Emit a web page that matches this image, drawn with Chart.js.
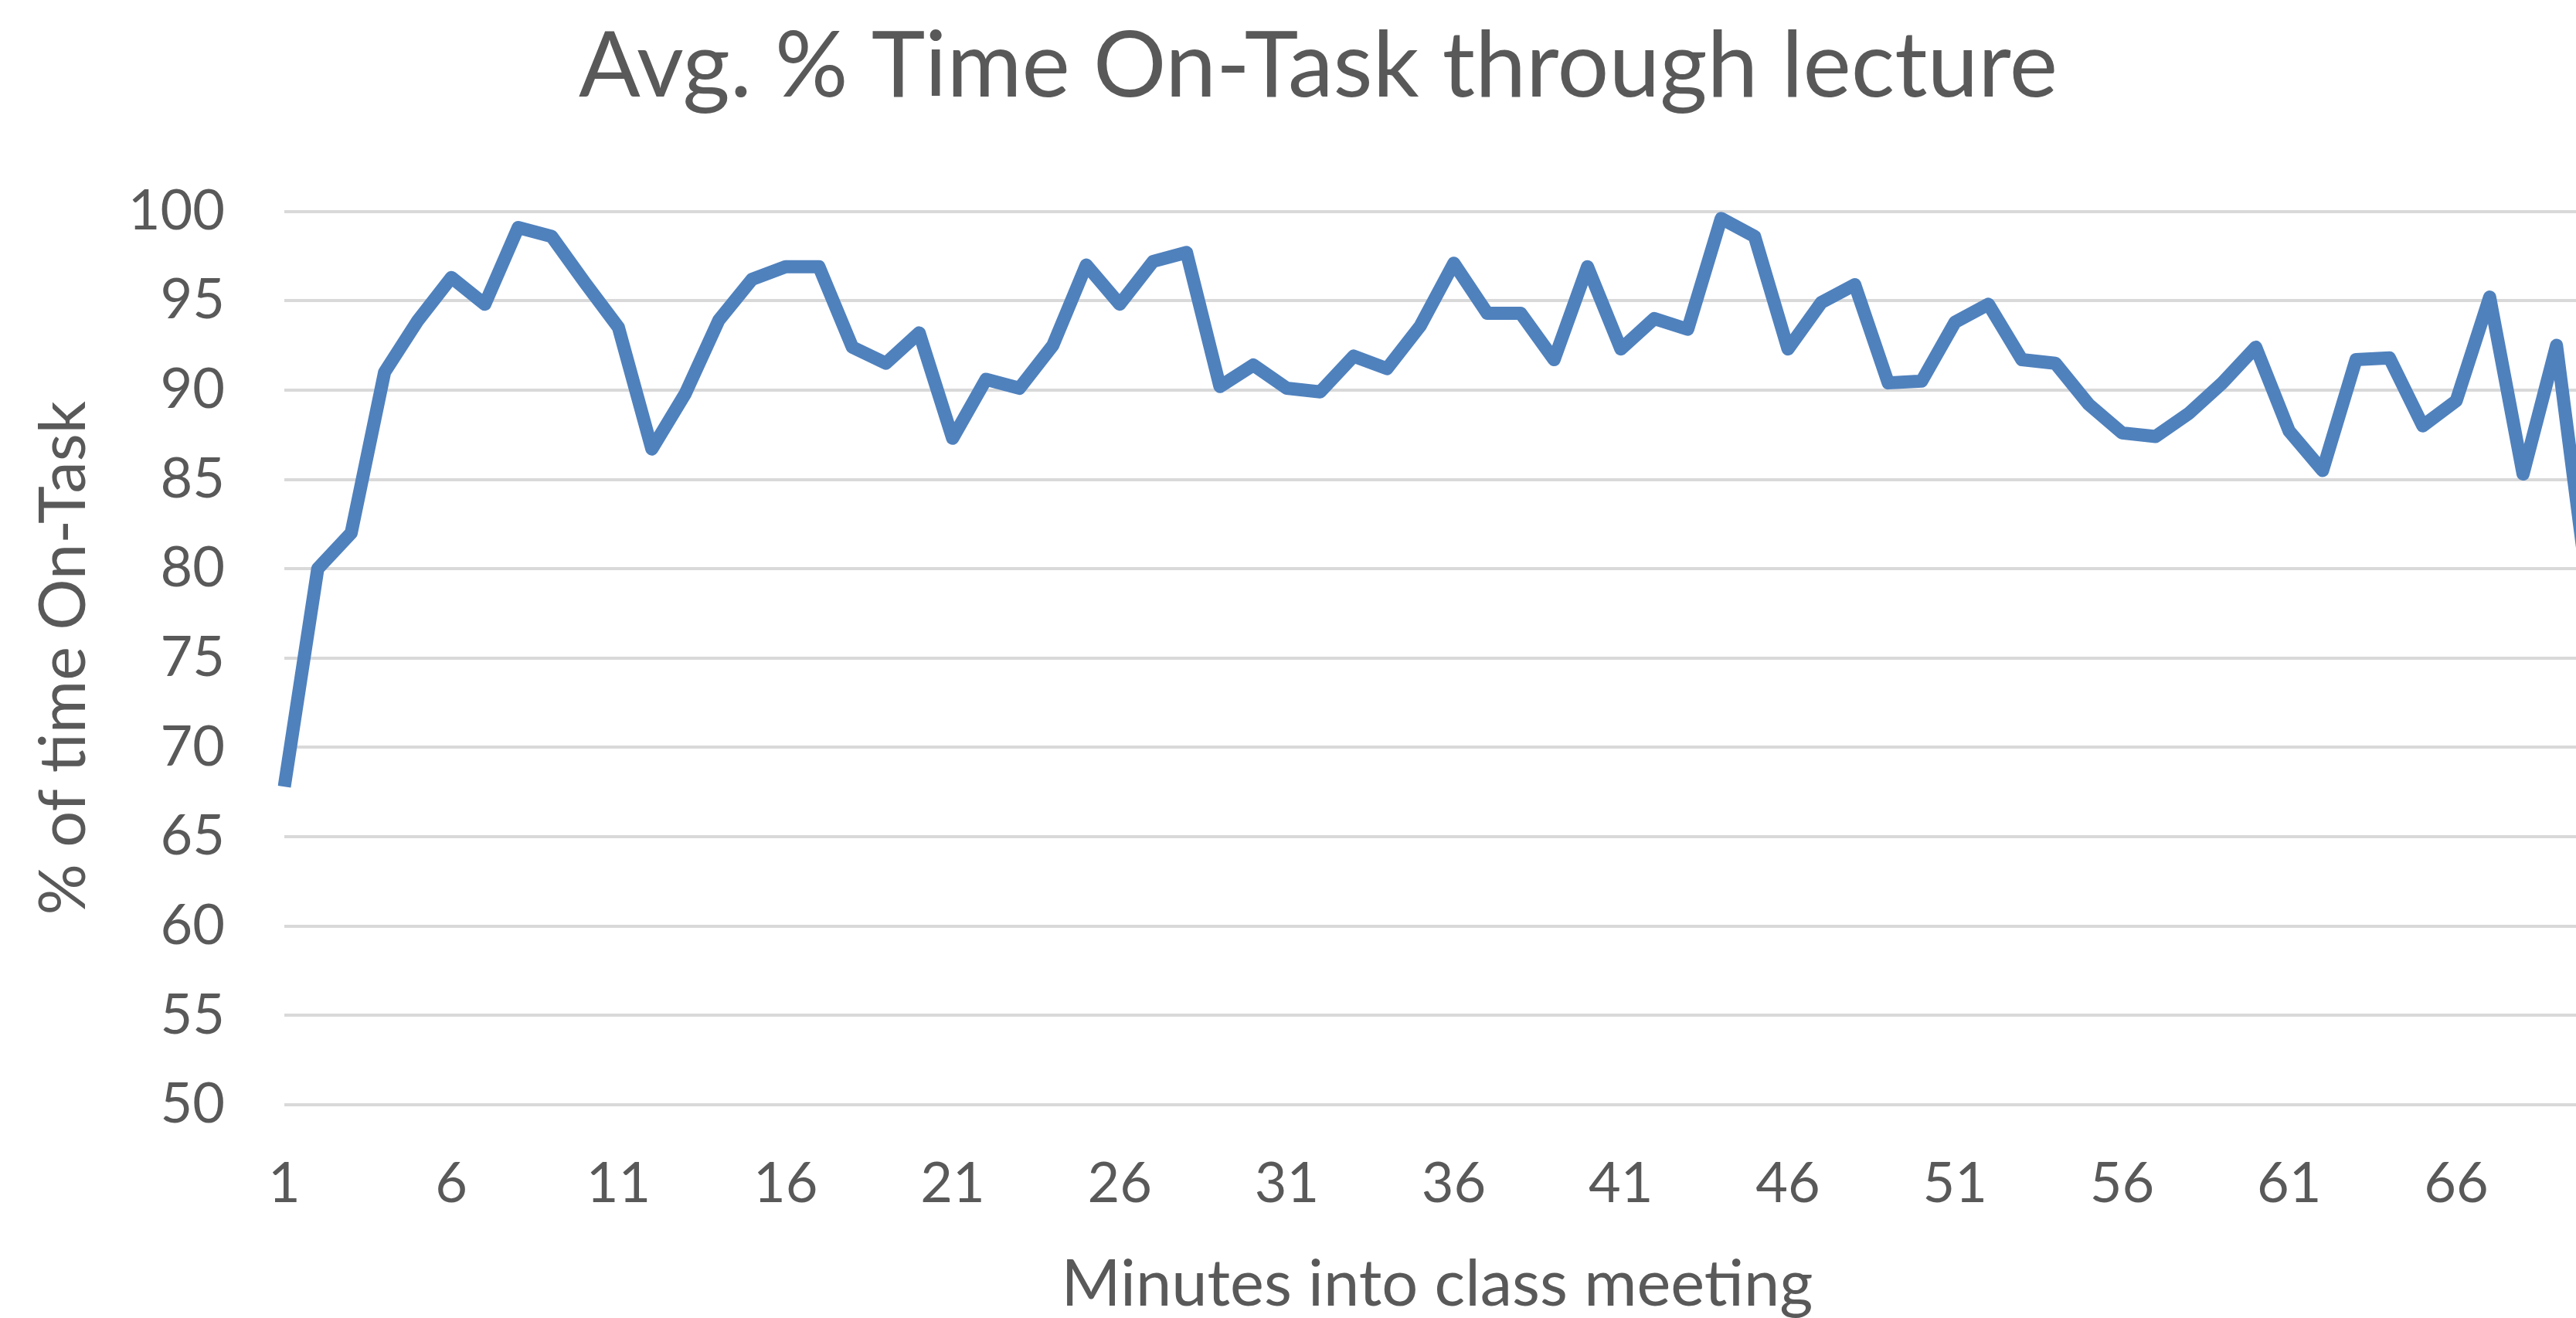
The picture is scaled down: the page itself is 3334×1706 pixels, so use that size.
<!DOCTYPE html>
<html>
<head>
<meta charset="utf-8">
<script src="https://cdn.jsdelivr.net/npm/chart.js@4/dist/chart.umd.min.js"></script>
<style>
  html, body { margin: 0; padding: 0; background: #ffffff; overflow: hidden; }
  #wrap { width: 3334px; height: 1706px; overflow: hidden; position: relative; }
  canvas { display: block; }
</style>
</head>
<body>
<div id="wrap"><canvas id="c" width="3412" height="1706"></canvas></div>
<script>
const chartTitle = 'Avg. % Time On-Task through lecture';
const xAxisTitle = 'Minutes into class meeting';
const yAxisTitle = '% of time On-Task';

const minutes = [1,2,3,4,5,6,7,8,9,10,11,12,13,14,15,16,17,18,19,20,
  21,22,23,24,25,26,27,28,29,30,31,32,33,34,35,36,37,38,39,40,
  41,42,43,44,45,46,47,48,49,50,51,52,53,54,55,56,57,58,59,60,
  61,62,63,64,65,66,67,68,69,70];

const onTask = [67.8,80.0,82.0,91.0,93.9,96.3,94.8,99.1,98.6,96.0,
  93.5,86.7,89.8,93.9,96.2,96.9,96.9,92.4,91.5,93.2,
  87.3,90.6,90.1,92.5,97.0,94.8,97.2,97.7,90.2,91.4,
  90.1,89.9,91.9,91.2,93.6,97.1,94.3,94.3,91.7,96.9,
  92.3,94.0,93.4,99.6,98.6,92.3,94.9,95.9,90.4,90.5,
  93.8,94.8,91.7,91.5,89.2,87.6,87.4,88.7,90.4,92.4,
  87.7,85.5,91.7,91.8,88.0,89.4,95.2,85.3,92.5,78.0];

const shownXTicks = [1,6,11,16,21,26,31,36,41,46,51,56,61,66];
const yMin = 50, yMax = 100, yStep = 5;

const textColor = '#595959';
const gridColor = '#D9D9D9';

new Chart(document.getElementById('c'), {
  type: 'line',
  data: {
    labels: minutes.map(String),
    datasets: [{
      data: onTask,
      borderColor: '#4F81BD',
      backgroundColor: '#4F81BD',
      borderWidth: 17,
      borderJoinStyle: 'round',
      borderCapStyle: 'butt',
      pointRadius: 0,
      pointHoverRadius: 0,
      tension: 0,
      fill: false
    }]
  },
  options: {
    responsive: false,
    animation: false,
    devicePixelRatio: 1,
    layout: { padding: { left: 0, right: 0, top: 0, bottom: 0 } },
    plugins: {
      legend: { display: false },
      tooltip: { enabled: false },
      title: {
        display: true,
        text: chartTitle,
        color: textColor,
        font: { family: 'Lato', size: 118, weight: 'normal', lineHeight: 1.2 },
        padding: { top: 16, bottom: 116 }
      }
    },
    scales: {
      x: {
        type: 'category',
        grid: { display: false, drawTicks: false },
        border: { display: false },
        ticks: {
          autoSkip: false,
          maxRotation: 0,
          minRotation: 0,
          padding: 60,
          color: textColor,
          font: { family: 'Lato', size: 72, lineHeight: 1.2 },
          callback: function(value, index) {
            const m = minutes[index];
            return shownXTicks.includes(m) ? String(m) : '';
          }
        },
        title: {
          display: true,
          text: xAxisTitle,
          color: textColor,
          font: { family: 'Lato', size: 83, lineHeight: 1.0 },
          padding: { top: 0, bottom: 1 }
        },
        afterFit: function(scale) { scale.height = 276; }
      },
      y: {
        min: yMin,
        max: yMax,
        grid: { color: gridColor, lineWidth: 4, drawTicks: false },
        border: { display: false },
        ticks: {
          stepSize: yStep,
          padding: 77,
          color: textColor,
          font: { family: 'Lato', size: 72, lineHeight: 1.2 }
        },
        title: {
          display: true,
          text: yAxisTitle,
          color: textColor,
          font: { family: 'Lato', size: 83, lineHeight: 1.0 },
          padding: { top: 42, bottom: 0 }
        },
        afterFit: function(scale) { scale.width = 368; }
      }
    }
  }
});
</script>
</body>
</html>
